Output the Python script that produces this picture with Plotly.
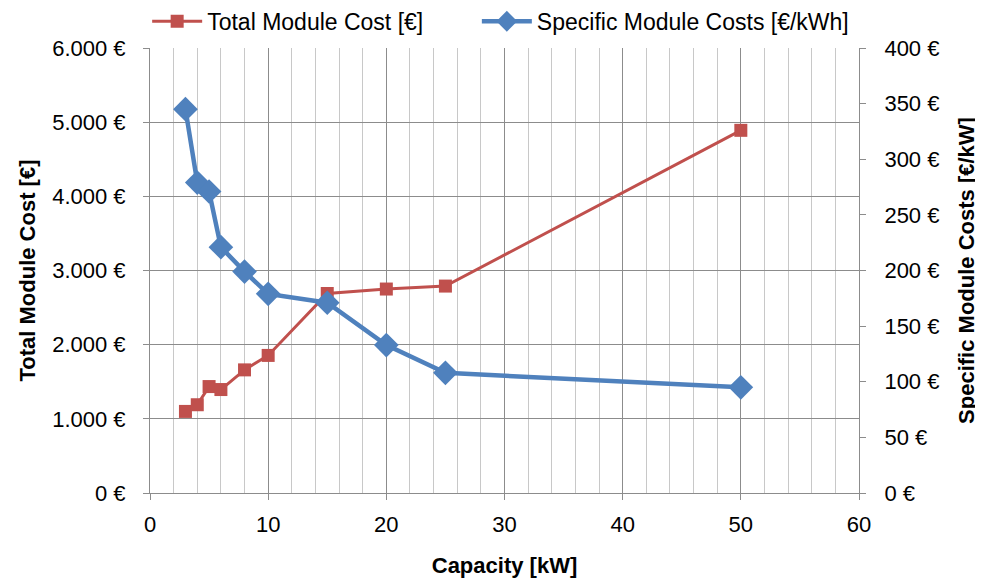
import plotly.graph_objects as go

capacity = [3, 4, 5, 6, 8, 10, 15, 20, 25, 50]
total_cost = [1100, 1190, 1435, 1395, 1660, 1855, 2690, 2750, 2790, 4890]
specific_cost = [345, 279, 271, 221, 199, 179, 171, 133, 108, 95]

left_ticks = [0, 1000, 2000, 3000, 4000, 5000, 6000]
left_labels = ["0 €", "1.000 €", "2.000 €", "3.000 €", "4.000 €", "5.000 €", "6.000 €"]
right_ticks = [0, 50, 100, 150, 200, 250, 300, 350, 400]
right_labels = ["0 €", "50 €", "100 €", "150 €", "200 €", "250 €", "300 €", "350 €", "400 €"]

FONT = "Liberation Sans, Arial, sans-serif"
red = "#C0504D"
blue = "#4F81BD"
gridc = "#8c8c8c"

fig = go.Figure()
fig.add_trace(go.Scatter(
    x=capacity, y=total_cost, name="Total Module Cost [€]",
    mode="lines+markers", line=dict(color=red, width=3),
    marker=dict(symbol="square", size=13, color=red), yaxis="y", legend="legend"))
fig.add_trace(go.Scatter(
    x=capacity, y=specific_cost, name="Specific Module Costs [€/kWh]",
    mode="lines+markers", line=dict(color=blue, width=4.5),
    marker=dict(symbol="diamond", size=19, color=blue), yaxis="y2", legend="legend2"))

leg_common = dict(orientation="h", xanchor="left", yref="paper", y=1.06, yanchor="middle",
                  font=dict(size=23), itemwidth=50, bgcolor="rgba(0,0,0,0)")

fig.update_layout(
    width=983, height=578,
    margin=dict(l=142, r=132, t=40, b=93, autoexpand=False),
    plot_bgcolor="white", paper_bgcolor="white",
    font=dict(family=FONT, size=22, color="black"),
    showlegend=True,
    legend=dict(x=-0.004, **leg_common),
    legend2=dict(x=0.461, **leg_common),
    xaxis=dict(range=[0, 60], tickvals=[0, 10, 20, 30, 40, 50, 60],
               showgrid=True, gridcolor=gridc, gridwidth=1,
               minor=dict(dtick=2, showgrid=True, gridcolor="#c8c8c8", gridwidth=1),
               ticks="outside", ticklen=6, tickcolor=gridc, automargin=False,
               ticklabelstandoff=6,
               showline=True, linecolor=gridc, linewidth=1, zeroline=False,
               title=dict(text="<b>Capacity [kW]</b>", font=dict(size=22), standoff=21),
               tickfont=dict(size=22)),
    yaxis=dict(range=[0, 6000], tickvals=left_ticks, ticktext=left_labels,
               showgrid=True, gridcolor=gridc, gridwidth=1,
               ticks="outside", ticklen=6, tickcolor=gridc, automargin=False,
               ticklabelstandoff=13,
               showline=True, linecolor=gridc, linewidth=1, zeroline=False,
               title=dict(text="<b>Total Module Cost [€]</b>", font=dict(size=22), standoff=10),
               tickfont=dict(size=22)),
    yaxis2=dict(range=[0, 400], tickvals=right_ticks, ticktext=right_labels,
                overlaying="y", side="right", showgrid=False, automargin=False,
                ticklabelstandoff=14,
                ticks="outside", ticklen=6, tickcolor=gridc,
                showline=True, linecolor=gridc, linewidth=1, zeroline=False,
                title=dict(text="<b>Specific Module Costs [€/kW]</b>", font=dict(size=22), standoff=20),
                tickfont=dict(size=22)),
)

fig.write_html("out.html")
